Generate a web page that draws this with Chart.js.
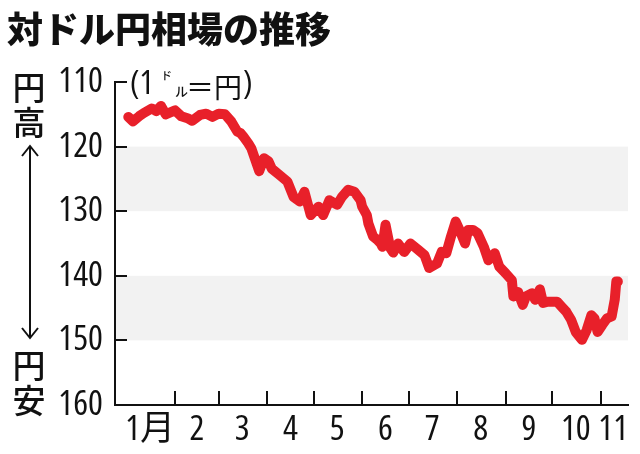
<!DOCTYPE html>
<html lang="ja">
<head>
<meta charset="utf-8">
<script src="https://cdn.jsdelivr.net/npm/chart.js@4.4.0/dist/chart.umd.min.js"></script>
<style>
  html, body { margin: 0; padding: 0; background: #fff; }
  #wrap { position: relative; width: 640px; height: 454px; overflow: hidden; }
  #chart { position: absolute; left: 0; top: 0; }
  .title { position: absolute; left: 7px; top: 1px; font: 900 36px "Noto Sans CJK JP"; color: #111; white-space: nowrap; }
  .side { position: absolute; left: 12px; width: 34px; text-align: center; font: 500 33px/35px "Noto Sans CJK JP"; color: #111; }
  .unit { position: absolute; top: 64px; color: #111; white-space: nowrap; }
  .unit span { position: absolute; }
  .narrow { font-family: "Open Sans"; font-stretch: condensed; font-size: 33px; }
  svg { position: absolute; left: 0; top: 0; }
</style>
</head>
<body>
<div id="wrap">
  <canvas id="chart" width="640" height="454"></canvas>
  <div class="title">対ドル円相場の推移</div>
  <div class="side" style="top:69px">円<br>高</div>
  <div class="side" style="top:347px">円<br>安</div>
  <div class="unit">
    <span class="narrow" style="left:130px;top:-5px">(1</span>
    <span style="left:161px;top:3px;font:500 11px 'Noto Sans CJK JP'">ド</span>
    <span style="left:175px;top:17px;font:500 13px 'Noto Sans CJK JP'">ル</span>
    <span style="left:186px;top:2px;font:400 28px 'Noto Sans CJK JP'">＝円</span>
    <span class="narrow" style="left:243px;top:-5px">)</span>
  </div>
  <svg width="60" height="454">
    <g stroke="#111" stroke-width="2" fill="none">
      <line x1="30" y1="146" x2="30" y2="338"/>
      <polyline points="22,156 30,146 38,156"/>
      <polyline points="22,328 30,338 38,328"/>
    </g>
  </svg>
</div>
<script>
// Axis labels and ticks
const monthLabels = ["1月", "2", "3", "4", "5", "6", "7", "8", "9", "10", "11"];
const labelDays = [15, 45, 74, 105, 135, 166, 196, 227, 258, 288, 312];
const monthStartDays = [31, 59, 90, 120, 151, 181, 212, 243, 273, 304];
const yTickValues = [110, 120, 130, 140, 150, 160];
const bandRanges = [[120, 130], [140, 150]];

// Yen per dollar, by day of year 2022
const days = [1, 4, 8, 11, 16, 19, 22, 25, 28, 31, 35, 39, 42, 47, 51, 55, 59, 63, 67, 71, 73, 75, 78, 80, 85, 88, 91, 93, 98, 103,
  107, 111, 114, 118, 123, 126, 130, 135, 138, 142, 146, 150, 151, 154, 155, 158, 161, 163, 164, 166, 169, 171, 174, 178, 182, 187,
  191, 194, 199, 202, 205, 208, 211, 214, 217, 219, 222, 225, 229, 232, 236, 239, 243, 247, 248, 251, 254, 256, 260, 262, 265, 267,
  270, 276, 279, 282, 285, 288, 292, 295, 298, 300, 302, 305, 308, 311, 313, 314, 315];
const rates = [115.4, 116.1, 115.3, 114.8, 114.1, 114.5, 113.7, 115.0, 114.7, 114.4, 115.3, 115.6, 116.0, 115.1, 114.9, 115.4, 114.9, 115.0, 116.1, 117.7,
  117.9, 118.5, 119.5, 120.3, 123.8, 121.8, 122.3, 123.4, 124.4, 125.4,
  127.8, 128.5, 127.0, 130.6, 129.3, 130.6, 128.3, 129.0, 127.8, 126.7, 127.0, 128.3, 129.3, 130.6, 131.9, 133.9, 134.5, 135.0, 135.5, 132.1,
  135.7, 136.4, 135.0, 136.3, 135.0, 136.0, 136.8, 138.8, 138.1, 136.3, 136.5, 133.9, 131.6, 133.2, 135.0, 132.9, 132.9, 133.4, 135.5, 137.6,
  136.5, 138.6, 139.6, 140.7, 143.2, 142.5, 144.5, 143.2, 142.7, 143.7, 142.1, 144.2, 144.0, 144.0, 144.8, 145.6, 146.8, 148.7, 149.9, 148.4,
  146.1, 146.6, 148.7, 147.6, 146.6, 146.3, 143.7, 140.9, 140.9];

// condensed digits; the stretch keyword rides in the weight slot of the font string
const axisFont = { family: "'Open Sans', 'Noto Sans CJK JP'", style: "normal", weight: "400 condensed", size: 35 };

// Gray bands under the line, inward tick marks on top
const framePlugin = {
  id: "frame",
  beforeDraw(chart) {
    const { ctx, chartArea: area, scales } = chart;
    ctx.save();
    ctx.fillStyle = "#f2f2f2";
    bandRanges.forEach(([lo, hi]) => {
      const y1 = scales.y.getPixelForValue(lo);
      const y2 = scales.y.getPixelForValue(hi);
      ctx.fillRect(area.left, y1, area.right - area.left, y2 - y1);
    });
    ctx.restore();
  },
  afterDatasetsDraw(chart) {
    const { ctx, chartArea: area, scales } = chart;
    ctx.save();
    ctx.strokeStyle = "#111";
    ctx.lineWidth = 2;
    ctx.beginPath();
    monthStartDays.forEach((d) => {
      const px = Math.round(scales.x.getPixelForValue(d));
      ctx.moveTo(px, area.bottom);
      ctx.lineTo(px, area.bottom - 14);
    });
    yTickValues.slice(0, -1).forEach((v) => {
      const py = Math.round(scales.y.getPixelForValue(v));
      ctx.moveTo(area.left, py);
      ctx.lineTo(area.left + 12, py);
    });
    ctx.stroke();
    ctx.restore();
  },
};

new Chart(document.getElementById("chart"), {
  type: "line",
  data: {
    datasets: [{
      data: days.map((d, i) => ({ x: d, y: rates[i] })),
      borderColor: "#e8202a",
      borderWidth: 10,
      borderJoinStyle: "round",
      borderCapStyle: "round",
      pointRadius: 0,
      tension: 0,
    }],
  },
  options: {
    responsive: false,
    animation: false,
    layout: { padding: { top: 82, right: 12, left: 0, bottom: 0 } },
    plugins: { legend: { display: false }, tooltip: { enabled: false } },
    scales: {
      x: {
        type: "linear",
        min: -7.5,
        max: 321.5,
        afterBuildTicks: (scale) => { scale.ticks = labelDays.map((v) => ({ value: v })); },
        afterFit: (scale) => { scale.height = 49; },
        grid: { display: false, drawTicks: false },
        border: { display: true, color: "#111", width: 2 },
        ticks: {
          autoSkip: false,
          maxRotation: 0,
          minRotation: 0,
          padding: 4,
          color: "#111",
          font: axisFont,
          callback: (value, index) => monthLabels[index],
        },
      },
      y: {
        reverse: true,
        min: 110,
        max: 160,
        afterBuildTicks: (scale) => { scale.ticks = yTickValues.map((v) => ({ value: v })); },
        afterFit: (scale) => { scale.width = 115; },
        grid: { display: false, drawTicks: false },
        border: { display: true, color: "#111", width: 2 },
        ticks: { padding: 12, color: "#111", font: axisFont },
      },
    },
  },
  plugins: [framePlugin],
});
</script>
</body>
</html>
